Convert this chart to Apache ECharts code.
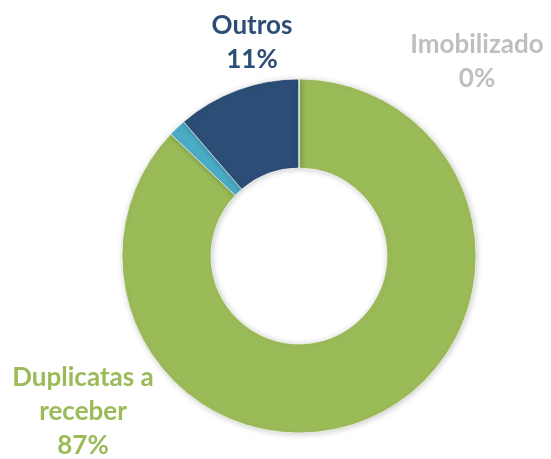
<!DOCTYPE html>
<html>
<head>
<meta charset="utf-8">
<script src="https://cdn.jsdelivr.net/npm/echarts@6/dist/echarts.min.js"></script>
<style>
  html, body { margin: 0; padding: 0; background: #fff; }
  #chart { width: 551px; height: 459px; }
</style>
</head>
<body>
<div id="chart"></div>
<script>
var categories = ['Duplicatas a receber', 'Estoques', 'Outros', 'Imobilizado'];
var values = [87.1, 1.6, 11.3, 0];
var colors = ['#9BBB59', '#4BACC6', '#2C4D75', '#BFBFBF'];
var labelColors = ['#9BBB59', '#4BACC6', '#2C4D75', '#BFBFBF'];
var showLabel = [true, false, true, true];

// where each label block sits (centre of the text block)
var labelPos = [
  { x: 83, y: 412 },
  { x: 0, y: 0 },
  { x: 252, y: 43 },
  { x: 477, y: 62 }
];

var chartDom = document.getElementById('chart');
var myChart = echarts.init(chartDom);

var seriesData = categories.map(function (name, i) {
  return {
    name: name,
    value: values[i],
    itemStyle: { color: colors[i] },
    label: { show: showLabel[i], color: labelColors[i] }
  };
});

var option = {
  animation: false,
  series: [
    {
      type: 'pie',
      center: [299, 256],
      radius: [88, 177],
      startAngle: 90,
      clockwise: true,
      avoidLabelOverlap: false,
      itemStyle: {
        borderColor: '#ffffff',
        borderWidth: 0.6,
        shadowBlur: 6,
        shadowColor: 'rgba(0,0,0,0.22)',
        shadowOffsetX: 1,
        shadowOffsetY: 1
      },
      label: {
        position: 'outside',
        fontFamily: 'Lato',
        fontWeight: 'bold',
        fontSize: 26,
        lineHeight: 34,
        align: 'center',
        formatter: function (p) {
          return p.name.replace('Duplicatas a ', 'Duplicatas a\n') + '\n' + Math.round(p.percent) + '%';
        }
      },
      labelLine: { show: false },
      labelLayout: function (params) {
        var pos = labelPos[params.dataIndex];
        return {
          x: pos.x,
          y: pos.y,
          align: 'center',
          verticalAlign: 'middle'
        };
      },
      data: seriesData
    }
  ]
};

option && myChart.setOption(option);
</script>
</body>
</html>
